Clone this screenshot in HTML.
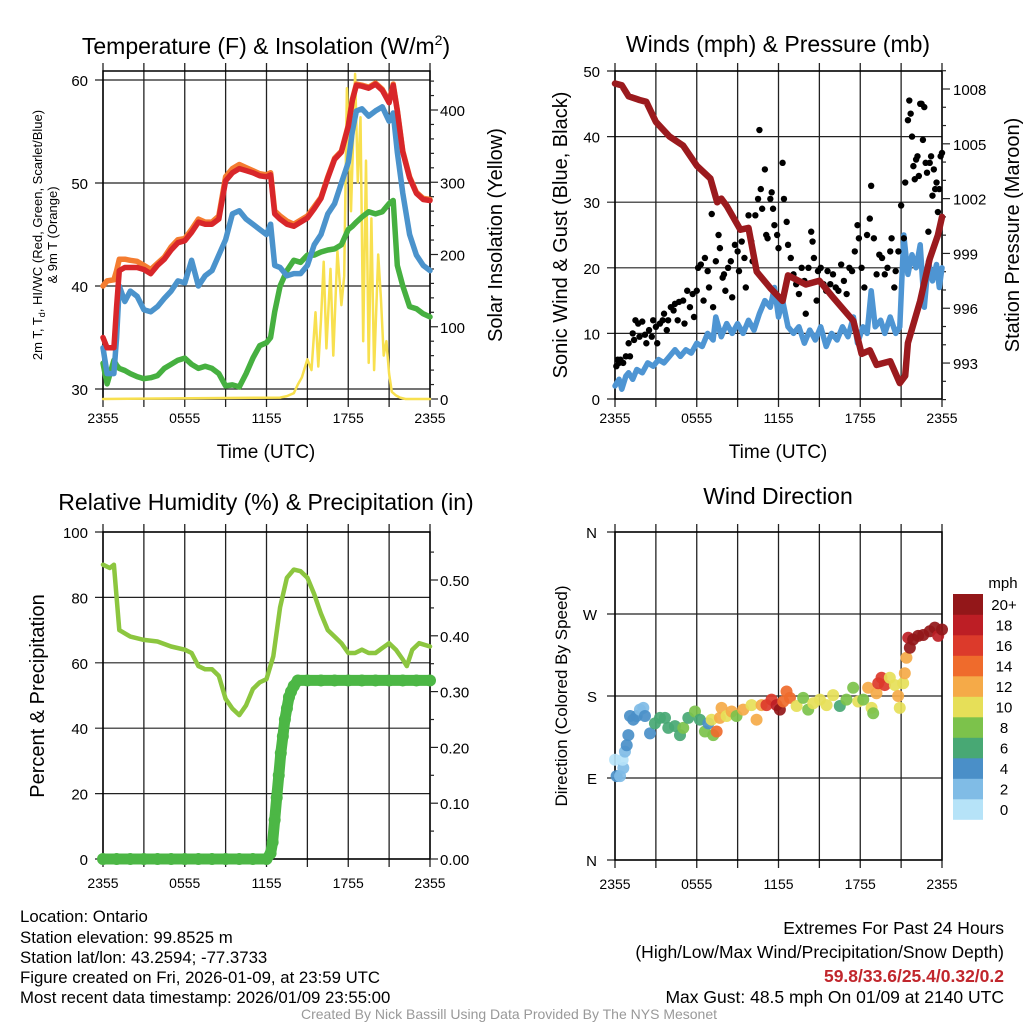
<!DOCTYPE html>
<html><head><meta charset="utf-8"><style>
html,body{margin:0;padding:0;background:#fff}
svg{display:block}
text{font-family:"Liberation Sans",sans-serif;fill:#000}
.n{font-family:"Liberation Sans Narrow","Liberation Sans",sans-serif}
</style></head><body>
<svg id="s" width="1024" height="1024" viewBox="0 0 1024 1024" xmlns="http://www.w3.org/2000/svg">
<g>
<text x="266" y="54" font-size="23" text-anchor="middle">Temperature (F) &amp; Insolation (W/m<tspan dy="-9" font-size="14">2</tspan><tspan dy="9">)</tspan></text>
<text x="266" y="458" font-size="19" text-anchor="middle">Time (UTC)</text>
<text transform="translate(42,235) rotate(-90)" font-size="13" text-anchor="middle">2m T, T<tspan font-size="9" dy="3">d</tspan><tspan dy="-3">, HI/WC (Red, Green, Scarlet/Blue)</tspan></text>
<text transform="translate(57,235) rotate(-90)" font-size="13" text-anchor="middle">&amp; 9m T (Orange)</text>
<text transform="translate(502,235) rotate(-90)" font-size="20" text-anchor="middle">Solar Insolation (Yellow)</text>
</g>
<g>
<text x="778" y="52" font-size="23" text-anchor="middle">Winds (mph) &amp; Pressure (mb)</text>
<text x="778" y="458" font-size="19" text-anchor="middle">Time (UTC)</text>
<text transform="translate(567,235) rotate(-90)" font-size="20" text-anchor="middle">Sonic Wind &amp; Gust (Blue, Black)</text>
<text transform="translate(1019,235) rotate(-90)" font-size="20" text-anchor="middle">Station Pressure (Maroon)</text>
</g>
<g>
<text x="266" y="510" font-size="23" text-anchor="middle">Relative Humidity (%) &amp; Precipitation (in)</text>
<text transform="translate(44,696) rotate(-90)" font-size="20" text-anchor="middle">Percent &amp; Precipitation</text>
</g>
<g>
<text x="778" y="504" font-size="23" text-anchor="middle">Wind Direction</text>
<text transform="translate(567,696) rotate(-90)" font-size="17" text-anchor="middle">Direction (Colored By Speed)</text>
<text x="1003" y="588" font-size="15" text-anchor="middle">mph</text>
</g>
<g font-size="16.8">
<text class="n" x="20" y="922">Location: Ontario</text>
<text class="n" x="20" y="943">Station elevation: 99.8525 m</text>
<text class="n" x="20" y="963">Station lat/lon: 43.2594; -77.3733</text>
<text class="n" x="20" y="983">Figure created on Fri, 2026-01-09, at 23:59 UTC</text>
<text class="n" x="20" y="1003">Most recent data timestamp: 2026/01/09 23:55:00</text>
</g>
<g font-size="17.5" text-anchor="end">
<text class="n" x="1004" y="934">Extremes For Past 24 Hours</text>
<text class="n" x="1004" y="958">(High/Low/Max Wind/Precipitation/Snow Depth)</text>
<text class="n" x="1004" y="982" font-weight="bold" style="fill:#c1272d">59.8/33.6/25.4/0.32/0.2</text>
<text class="n" x="1004" y="1003">Max Gust: 48.5 mph On 01/09 at 2140 UTC</text>
</g>
<text class="n" x="509" y="1019" font-size="14" text-anchor="middle" style="fill:#999">Created By Nick Bassill Using Data Provided By The NYS Mesonet</text>
</svg>
<script>
// ---------- data ----------
const xTickLabels=["2355","0555","1155","1755","2355"];
const tempT=[0,0.3,0.8,1.0,1.2,1.6,2,2.5,3,3.5,4,4.5,5,5.5,6,6.5,7,7.5,8,8.5,9,9.5,10,10.5,11,11.5,12,12.3,12.6,13,13.5,14,14.5,15,15.5,16,16.5,17,17.5,18,18.3,18.6,19,19.5,20,20.5,21,21.3,21.6,22,22.5,23,23.5,24];
const tempRed=[35,34,34,38,41.5,41.8,41.8,41.8,41.6,41.2,42,42.6,43.5,44.2,44.4,45.2,46.2,46,46,46.5,50.2,51,51.4,51.2,51,50.7,50.6,50.8,47,46.5,46,45.8,46.2,46.6,47.5,48.5,50.5,52.3,53,55.5,58,59.5,59.4,59.2,59.6,59,57.8,59.5,57,53,50.5,49,48.4,48.3];
const tempOrange=[40,40.5,40.6,41.5,42.6,42.6,42.5,42.4,42,41.6,42.2,42.8,43.8,44.5,44.6,45.5,46.5,46.2,46.2,46.8,50.6,51.4,51.8,51.5,51.2,50.9,50.8,51,47.3,46.8,46.3,46,46.4,46.8,47.7,48.6,50.6,52.4,53.1,55.6,58.1,59.6,59.5,59.3,59.7,59.1,57.9,59.6,57.1,53.1,50.6,49.1,48.5,48.4];
const tempBlue=[34,31.5,31.5,35,40,38.5,39.5,39,37.7,37.5,38,38.8,39.5,40.5,40.3,42.5,40,41,41.5,43,44.5,47,47.3,46.5,46,45.5,45,46,42,41.8,41,41.2,41.2,42,44,45,47,48,50,52,55,57,57.2,56.5,57,57.4,56,56.8,53,49,45,43,42,41.5];
const tempGreen=[32.5,30.5,32.8,32.3,32,31.8,31.5,31.2,31,31.1,31.3,32,32.4,32.8,33,32.4,32,32.2,32,31.5,30.3,30.4,30.2,31.5,33,34.2,34.5,35,37.5,40,41.5,42.5,42.3,43,43,43.3,43.5,43.6,44,45.5,45.8,46.2,46.7,47.2,47,47.2,48,48.3,42,40,38,37.8,37.3,37];
const solarT=[0,13,13.5,14,14.3,14.6,15,15.3,15.6,15.8,16,16.2,16.4,16.7,16.9,17.2,17.5,17.7,17.9,18.2,18.5,18.7,18.9,19.1,19.3,19.5,19.7,19.9,20.2,20.4,20.6,20.8,21,21.2,21.5,21.8,22.2,22.6,24];
const solarW=[0,2,4,8,20,30,55,40,120,45,110,190,70,180,60,205,130,170,430,260,450,300,390,80,330,50,250,40,200,140,60,80,35,10,5,2,0,0,0];
const windT=[0,0.3,0.5,0.8,1,1.3,1.6,2,2.4,2.8,3.2,3.6,4,4.4,4.8,5.2,5.6,6,6.4,6.8,7.2,7.4,7.8,8.2,8.6,9,9.4,9.8,10.2,10.6,11,11.4,11.7,12,12.3,12.7,13.1,13.5,13.9,14.3,14.7,15.1,15.5,15.9,16.3,16.7,17.1,17.5,17.8,18.2,18.5,18.8,19.1,19.5,19.8,20.2,20.6,20.9,21.2,21.5,21.8,22.1,22.4,22.7,23,23.3,23.6,23.8,24];
const windV=[2,3,1.5,3.5,4,3,4.5,4,5.5,5,6,5.5,6.5,7.5,6.5,7.5,7,8.5,8,10,9,12.5,9.5,11.5,10,11.5,10,12,10.5,13,15,14,17,12.5,15,11,10,11,8.5,10.5,9,11,8,10,9,11,9.5,12.5,8.5,11,10,16.5,11,12,10,12.5,10,11,25,19,22,20,23.5,14,21,18,20.5,17,20];
const gustT=[0.1,0.2,0.3,0.4,0.6,0.8,1.0,1.1,1.3,1.4,1.5,1.7,1.8,2.0,2.2,2.3,2.5,2.7,2.8,3.0,3.1,3.3,3.5,3.6,3.8,3.9,4.1,4.3,4.4,4.6,4.7,5.0,5.1,5.3,5.5,5.7,5.8,6.0,6.1,6.3,6.5,6.6,6.8,6.9,7.1,7.2,7.4,7.6,7.7,7.9,8.0,8.1,8.3,8.5,8.6,8.8,9.0,9.1,9.3,9.5,9.6,9.8,10.0,10.1,10.3,10.5,10.6,10.7,10.8,11.0,11.1,11.2,11.4,11.5,11.6,11.7,11.9,12.0,12.3,12.4,12.6,12.7,12.9,13.1,13.3,13.5,13.7,13.9,14.0,14.2,14.4,14.5,14.6,14.8,14.9,15.1,15.3,15.5,15.6,15.8,16.0,16.2,16.4,16.6,16.8,17.0,17.2,17.4,17.6,17.8,17.9,18.1,18.3,18.5,18.7,18.8,19.0,19.2,19.4,19.6,19.8,20.0,20.2,20.3,20.5,20.6,20.8,21.0,21.2,21.3,21.5,21.6,21.7,21.8,21.9,22.0,22.1,22.2,22.3,22.4,22.5,22.6,22.7,22.8,22.9,23.0,23.1,23.2,23.3,23.4,23.5,23.6,23.7,23.8,23.9,24.0];
const gustV=[5,6,5.5,6,5.5,6.5,8.5,6.5,10,9,12,11.5,9.5,11.8,9.8,8.5,10.5,9.5,12,11,8.5,11.5,12,13,10.5,12,14,13.5,14.5,12,14.8,15,11.5,16.5,14,16,12.5,16.5,20,20.5,15,21.5,19.5,17,28.2,14,21,25,23,18.5,19,16.5,20,21,15.5,23.5,22.5,19.5,24,21.5,17,28,24,21,28,30.5,41,32,29,35,25,24.5,30.5,31.5,29,26.5,25,23,36,30.5,27,23.5,21.5,19,17.5,16,20,18,13,20,25.5,24,21.5,15,19.5,20,17.5,16.5,19.5,17.5,19,17,16.5,20.5,18,16,20,19.5,22.5,26.5,24.5,20,17,25,27.5,32.5,24.5,19,22,21.5,19,20,22.5,24.5,17,19.5,22.5,29.5,24.5,33,42.5,45.5,43.5,40,35.5,33.5,36.5,37,34,45,45,39.5,44.5,36,34.5,25.5,36,37,31,35,32,33,28.5,32,37,37.5];
const presT=[0,0.5,1,1.8,2.3,3,4,5,6,7,7.5,7.8,8.2,9.2,9.8,10.4,11.4,12.3,12.7,14,15,16,17.5,18.1,18.7,19.2,20.2,20.9,21.3,21.5,22.4,23.1,23.7,24];
const presV=[1008.3,1008.2,1007.6,1007.4,1007.3,1006.2,1005.4,1004.9,1003.8,1003.1,1001.8,1002,1001.6,1000.3,1000.4,998,997.1,996.4,997.8,997.3,997.5,996.6,995.3,993.5,993.7,992.9,993.1,991.9,992.3,994.1,996.4,998.7,1000,1001];
const rhT=[0,0.5,0.8,1.2,2,3,4,5,6,6.5,7,7.5,8,8.5,9,9.5,10,10.5,11,11.5,12,12.5,13,13.5,14,14.5,15,15.5,16,16.5,17,17.5,18,18.5,19,19.5,20,21,21.5,22,22.3,22.7,23.2,24];
const rhV=[90,89,90,70,68,67,66.5,65,64,63,59,58,58,56,49,46,44,47,52,54,55,62,77,86,88.5,88,86,81,75,70,68,66,63,63,64,63,63,66,64,61,59,64,66,65];
const precT=[0,1,2,3,4,5,6,7,8,9,10,11,12,12.3,12.45,12.6,12.75,12.9,13.05,13.2,13.35,13.5,13.65,13.8,14,14.3,15,16,17,18,19,20,21,22,23,24];
const precV=[0,0,0,0,0,0,0,0,0,0,0,0,0,0.01,0.03,0.07,0.11,0.15,0.19,0.22,0.25,0.27,0.29,0.3,0.31,0.32,0.32,0.32,0.32,0.32,0.32,0.32,0.32,0.32,0.32,0.32];
const dirT=[0,0.12,0.37,0.61,0.56,0.73,0.86,0.98,1.1,1.34,1.59,1.83,2.08,2.2,2.57,2.93,3.3,3.67,3.91,4.4,4.77,5.01,5.38,5.87,6.23,6.6,6.85,7.09,7.21,7.46,7.7,7.82,8.19,8.56,8.92,9.41,10.02,10.39,10.76,11.12,11.49,11.86,12.1,12.35,12.59,12.84,13.33,13.81,14.18,14.55,15.04,15.53,16.01,16.5,16.99,17.48,17.85,18.22,18.58,18.83,18.95,19.19,19.32,19.56,19.8,20.17,20.54,20.78,20.9,21.15,21.27,21.39,21.52,21.64,21.88,22.25,22.62,23.1,23.47,23.72,24];
const dirV=[110,92,92,101,110,119,126,137,158,154,158,165,167,158,139,150,156,156,145,147,137,145,156,163,154,141,150,154,137,141,156,167,158,163,158,165,170,154,170,170,176,170,165,174,185,178,169,178,165,172,176,170,181,169,176,189,174,176,189,167,161,183,194,200,192,200,192,180,167,194,205,222,244,233,242,246,247,251,255,246,253];
const dirSpd=[1,4,3,2,1,2,4,4,4,4,4,3,2,4,4,6,6,6,7,6,6,8,7,8,6,8,5,10,8,15,12,12,10,12,9,12,10,12,13,16,17,18,20,14,15,14,10,8,9,10,10,10,10,7,8,8,10,9,12,10,8,12,16,17,16,10,10,12,10,10,12,12,18,20,20,20,20,20,20,18,20];
const cbLabels=["0","2","4","6","8","10","12","14","16","18","20+"];
const cbColors=["#b6e3f8","#80bce6","#4a8fc8","#48a874","#7cc24b","#e6df58","#f5aa48","#ef6b2c","#dc3a2b","#bd1e25","#931719"];

// ---------- helpers ----------
const NS="http://www.w3.org/2000/svg";
const svg=document.getElementById('s');
function mk(tag,attrs,parent){const e=document.createElementNS(NS,tag);for(const k in attrs)e.setAttribute(k,attrs[k]);(parent||svg).appendChild(e);return e;}
function grp(name){const g=mk('g',{});return g;}
function polyline(g,ts,vs,fx,fy,color,w,name){
  const pts=ts.map((t,i)=>fx(t).toFixed(1)+','+fy(vs[i]).toFixed(1)).join(' ');
  const p=mk('polyline',{points:pts,fill:'none',stroke:color,'stroke-width':w,'stroke-linejoin':'round','stroke-linecap':'round'},g);
  
  
  return p;
}
function frame(x0,x1,y0,y1,name,hy,labOff){
  const g=grp(name);
  for(let h=0;h<=24;h+=3){const x=x0+(x1-x0)*h/24;
    const l=mk('line',{x1:x,x2:x,y1:y0-8,y2:y1+8,stroke:'#222','stroke-width':1.3},g);
    
    }
  hy.forEach(y=>{const l=mk('line',{x1:x0-8,x2:x1,y1:y,y2:y,stroke:'#222','stroke-width':1.2},g);
    
    });
  const r=mk('rect',{x:x0,y:y0,width:x1-x0,height:y1-y0,fill:'none',stroke:'#000','stroke-width':1.5},g);
  
  
  xTickLabels.forEach((s,i)=>{const t=mk('text',{x:x0+(x1-x0)*i/4,y:y1+labOff,'font-size':14,'text-anchor':'middle'},g);t.textContent=s;
    
    });
  return g;
}
function label(g,x,y,s,anchor,size){const t=mk('text',{x:x,y:y,'font-size':size||15,'text-anchor':anchor||'end'},g);t.textContent=s;
  
  return t;}
function tick(g,x1,x2,y){const l=mk('line',{x1:x1,x2:x2,y1:y,y2:y,stroke:'#222','stroke-width':1.2},g);
  
  }

// ---------- panel 1: temperature ----------
const p1x=t=>103+t*327/24, p1y=v=>80+(60-v)*10.3, p1s=w=>399-w*0.7225;
{const g=frame(103,430,71,399,'temperature-plot',[30,40,50,60].map(p1y),24);
 [30,40,50,60].forEach(v=>label(g,88,p1y(v)+6,String(v)));
 for(let w=0;w<=440;w+=20){tick(g,430,w%100===0?438:434,p1s(w));}
 for(let w=0;w<=400;w+=100)label(g,440,p1s(w)+6,String(w),'start');
 const d=grp('temperature-series');
 polyline(d,solarT,solarW,p1x,p1s,'#f8e04f',2.5,'solar-insolation-line');
 polyline(d,tempT,tempGreen,p1x,p1y,'#46b040',5.5,'dewpoint-line');
 polyline(d,tempT,tempBlue,p1x,p1y,'#4b93cc',5.5,'windchill-line');
 polyline(d,tempT,tempOrange,p1x,p1y,'#f47c30',5.5,'9m-temperature-line');
 polyline(d,tempT,tempRed,p1x,p1y,'#d8262a',5.5,'2m-temperature-line');
}
// ---------- panel 2: winds ----------
const p2x=t=>615+t*327/24, p2y=v=>399-v*6.56, p2p=p=>89+(1008-p)*18.27;
{const g=frame(615,942,71,399,'winds-plot',[0,10,20,30,40,50].map(p2y),24);
 [0,10,20,30,40,50].forEach(v=>label(g,600,p2y(v)+6,String(v)));
 for(let p=991;p<=1009;p++){tick(g,942,(p%3===0)?950:946,p2p(p));}
 for(let p=993;p<=1008;p+=3)label(g,953,p2p(p)+6,String(p),'start');
 const d=grp('wind-series');
 polyline(d,windT,windV,p2x,p2y,'#4e95d3',5.5,'sonic-wind-line');
 gustT.forEach((t,i)=>{const c=mk('circle',{cx:p2x(t),cy:p2y(gustV[i]),r:3.2,fill:'#000'},d);
   
   });
 polyline(d,presT,presV,p2x,p2p,'#9b1a1e',6.5,'pressure-line');
}
// ---------- panel 3: RH & precip ----------
const p3x=t=>103+t*327/24, p3y=v=>859-v*3.27, p3p=p=>859-p*558;
{const g=frame(103,430,532,859,'rh-precip-plot',[0,20,40,60,80,100].map(p3y),29);
 [0,20,40,60,80,100].forEach(v=>label(g,88,p3y(v)+6,String(v)));
 for(let p=0;p<=0.56;p+=0.05){tick(g,430,Math.round(p*100)%10===0?438:434,p3p(p));}
 for(let i=0;i<=5;i++)label(g,440,p3p(i/10)+6,(i/10).toFixed(2),'start');
 const d=grp('rh-precip-series');
 polyline(d,rhT,rhV,p3x,p3y,'#8cc63f',4.5,'relative-humidity-line');
 polyline(d,precT,precV,p3x,p3p,'#4cb745',11,'precipitation-line');
 precT.forEach((t,i)=>{const c=mk('circle',{cx:p3x(t),cy:p3p(precV[i]),r:6,fill:'#4cb745'},d);
   
   });
}
// ---------- panel 4: wind direction ----------
const p4x=t=>615+t*327/24, p4y=d=>860-d*328/360;
{const g=frame(615,942,532,860,'wind-direction-plot',[0,90,180,270,360].map(p4y),29);
 ["N","E","S","W","N"].forEach((s,i)=>label(g,597,p4y(i*90)+6,s));
 const d=grp('wind-direction-series');
 dirT.forEach((t,i)=>{const ci=Math.min(10,Math.floor(dirSpd[i]/2));
   const c=mk('circle',{cx:p4x(t),cy:p4y(dirV[i]),r:6,fill:cbColors[ci],'fill-opacity':0.92},d);
   
   });
 const cb=grp('speed-colorbar');
 cbColors.forEach((c,i)=>{const y=594+(10-i)*20.5;
   const r=mk('rect',{x:953,y:y,width:30,height:20.8,fill:c},cb);
   
   
   label(cb,1004,y+16,cbLabels[i],'middle',15);});
}
</script>
</body></html>
